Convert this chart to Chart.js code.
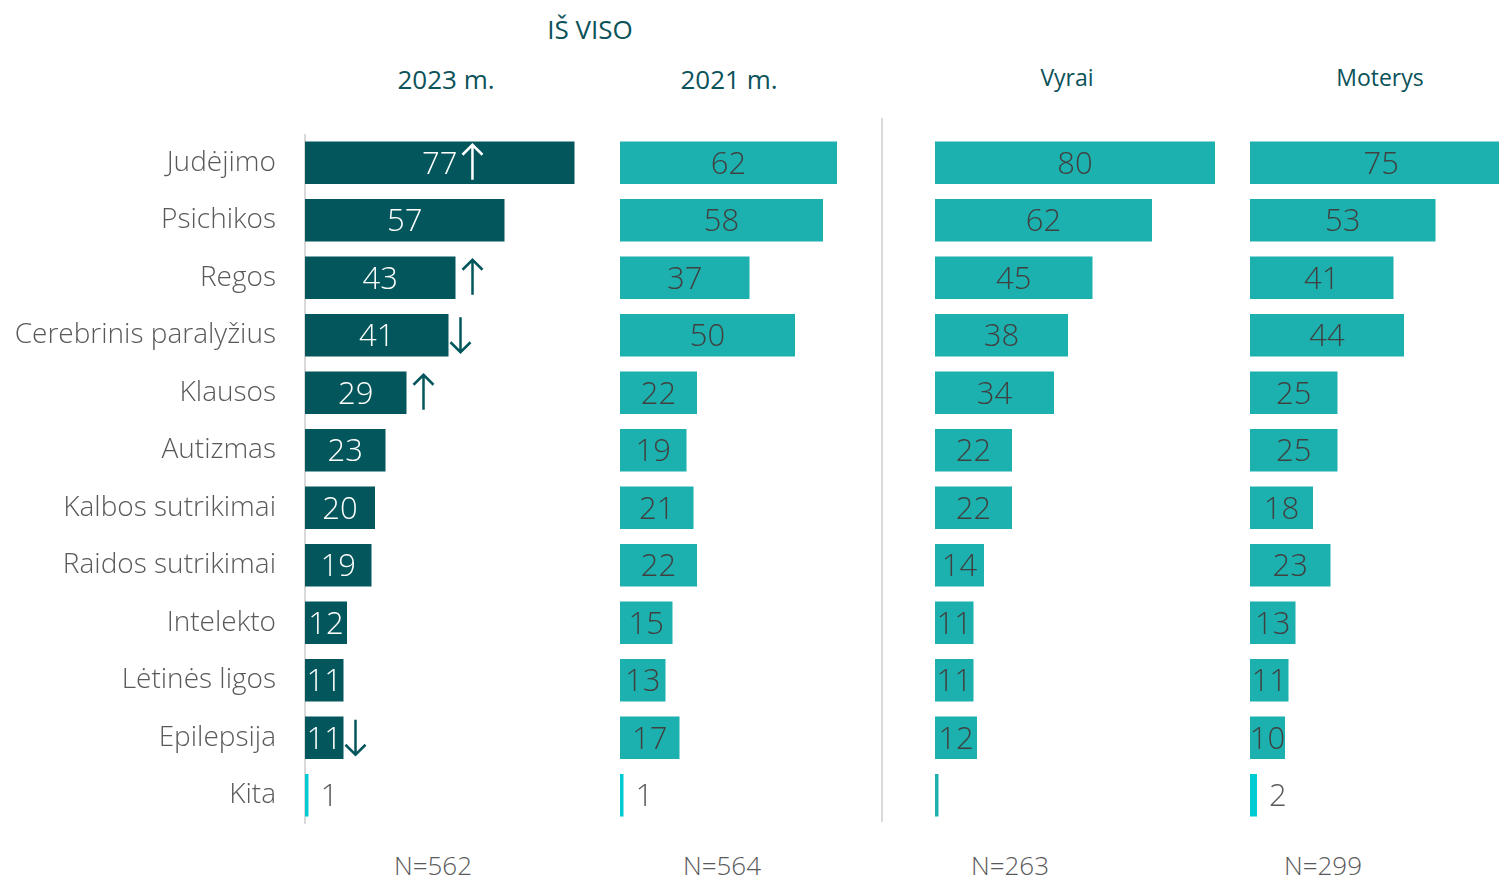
<!DOCTYPE html>
<html>
<head>
<meta charset="utf-8">
<script src="https://cdn.jsdelivr.net/npm/chart.js@4.4.0/dist/chart.umd.min.js"></script>
<style>
  body { margin: 0; background: #fff; font-family: 'Open Sans', sans-serif; }
  #wrap { position: relative; width: 1499px; height: 880px; overflow: hidden; }
  .panel { position: absolute; top: 134px; height: 690px; }
  .txt { position: absolute; transform: translate(-50%, -50%); white-space: nowrap; }
  .head { color: #0b5259; font-size: 26px; }
  .head.small { font-size: 23px; }
  .n { color: #595959; font-size: 26px; font-weight: 300; }
  #sep { position: absolute; left: 881px; top: 118px; width: 2px; height: 704px; background: #d9d9d9; }
</style>
</head>
<body>
<div id="wrap">
  <div class="txt head" style="left:590px;top:29px">IŠ VISO</div>
  <div id="titles"></div>
  <div id="sep"></div>
  <div class="panel" style="left:0;width:590px"><canvas id="c0"></canvas></div>
  <div class="panel" style="left:620px;width:260px"><canvas id="c1"></canvas></div>
  <div class="panel" style="left:935px;width:300px"><canvas id="c2"></canvas></div>
  <div class="panel" style="left:1250px;width:249px"><canvas id="c3"></canvas></div>
</div>
<script>
// data
const categories = ['Judėjimo', 'Psichikos', 'Regos', 'Cerebrinis paralyžius', 'Klausos', 'Autizmas',
  'Kalbos sutrikimai', 'Raidos sutrikimai', 'Intelekto', 'Lėtinės ligos', 'Epilepsija', 'Kita'];
const total2023 = [77, 57, 43, 41, 29, 23, 20, 19, 12, 11, 11, 1];
const total2021 = [62, 58, 37, 50, 22, 19, 21, 22, 15, 13, 17, 1];
const men = [80, 62, 45, 38, 34, 22, 22, 14, 11, 11, 12, 1];
const women = [75, 53, 41, 44, 25, 25, 18, 23, 13, 11, 10, 2];
const trend2023 = ['up', null, 'up', 'down', 'up', null, null, null, null, null, 'down', null];
const panelTitles = ['2023 m.', '2021 m.', 'Vyrai', 'Moterys'];
const sampleSizes = ['N=562', 'N=564', 'N=263', 'N=299'];

const DARK = '#03565b';
const TEAL = '#1cb1ae';
const CYAN = '#00cbd3';
const PX_PER_UNIT = 3.5;

Chart.defaults.font.family = "'Open Sans', sans-serif";

// titles and N= under each panel
const titlePos = [[446, 79, ''], [729, 79, ''], [1067, 77, 'small'], [1380, 77, 'small']];
const nPos = [433, 722, 1010, 1323];
const titles = document.getElementById('titles');
panelTitles.forEach((t, i) => {
  const d = document.createElement('div');
  d.className = 'txt head ' + titlePos[i][2];
  d.style.left = titlePos[i][0] + 'px';
  d.style.top = titlePos[i][1] + 'px';
  d.textContent = t;
  titles.appendChild(d);
  const n = document.createElement('div');
  n.className = 'txt n';
  n.style.left = nPos[i] + 'px';
  n.style.top = '865px';
  n.textContent = sampleSizes[i];
  titles.appendChild(n);
});

function drawArrow(ctx, x, y, dir, color) {
  const top = y - 18, bottom = y + 17;
  ctx.save();
  ctx.strokeStyle = color;
  ctx.lineWidth = 2.5;
  ctx.beginPath();
  ctx.moveTo(x, top);
  ctx.lineTo(x, bottom);
  if (dir === 'up') {
    ctx.moveTo(x - 10, top + 10); ctx.lineTo(x, top); ctx.lineTo(x + 10, top + 10);
  } else {
    ctx.moveTo(x - 10, bottom - 10); ctx.lineTo(x, bottom); ctx.lineTo(x + 10, bottom - 10);
  }
  ctx.stroke();
  ctx.restore();
}

const valueLabels = {
  id: 'valueLabels',
  afterDatasetsDraw(chart, args, opts) {
    const ctx = chart.ctx;
    const ds = chart.data.datasets[0];
    const meta = chart.getDatasetMeta(0);
    ctx.save();
    ctx.font = "300 31px 'Open Sans'";
    ctx.textBaseline = 'middle';
    meta.data.forEach((bar, i) => {
      const w = bar.x - bar.base;
      const txt = String(ds.data[i]);
      const y = bar.y + 2;
      let labelRight;
      if (!(opts.hide || []).includes(chart.data.labels[i])) {
        if (w < 20) {
          ctx.textAlign = 'left';
          ctx.fillStyle = '#595959';
          ctx.fillText(txt, bar.x + 12, y);
          labelRight = bar.x + 12 + ctx.measureText(txt).width;
        } else {
          ctx.textAlign = 'center';
          ctx.fillStyle = opts.inside;
          const cx = (bar.x + bar.base) / 2;
          ctx.fillText(txt, cx, y);
          labelRight = cx + ctx.measureText(txt).width / 2;
        }
      }
      const tr = opts.trend && opts.trend[i];
      if (tr) {
        const ax = bar.x + (tr === 'up' ? 17 : 12);
        if (ax + 10 > chart.chartArea.right) {
          drawArrow(ctx, labelRight + 15, bar.y, tr, '#ffffff');
        } else {
          drawArrow(ctx, ax, bar.y, tr, DARK);
        }
      }
    });
    ctx.restore();
  }
};

const panels = [
  { id: 'c0', data: total2023, main: DARK, kita: CYAN, inside: '#ffffff', axis: 305, trend: trend2023 },
  { id: 'c1', data: total2021, main: TEAL, kita: CYAN, inside: '#404040', axis: 0 },
  { id: 'c2', data: men, main: TEAL, kita: TEAL, inside: '#404040', axis: 0, hide: ['Kita'] },
  { id: 'c3', data: women, main: TEAL, kita: CYAN, inside: '#404040', axis: 0 }
];

panels.forEach(p => {
  const el = document.getElementById(p.id);
  const width = el.parentElement.clientWidth;
  const showAxis = p.axis > 0;
  new Chart(el, {
    type: 'bar',
    data: {
      labels: categories,
      datasets: [{
        data: p.data,
        backgroundColor: categories.map(c => c === 'Kita' ? p.kita : p.main),
        borderWidth: 0,
        barPercentage: 0.74,
        categoryPercentage: 1
      }]
    },
    options: {
      indexAxis: 'y',
      responsive: true,
      maintainAspectRatio: false,
      animation: false,
      layout: { padding: 0 },
      plugins: {
        legend: { display: false },
        tooltip: { enabled: false },
        valueLabels: { inside: p.inside, trend: p.trend, hide: p.hide }
      },
      scales: {
        x: {
          display: false,
          min: 0,
          max: (width - p.axis) / PX_PER_UNIT
        },
        y: {
          display: showAxis,
          grid: { display: false, drawTicks: false },
          border: { display: true, color: '#d9d9d9', width: 2 },
          ticks: {
            color: '#595959',
            padding: 29,
            font: { size: 28, weight: 300 }
          },
          afterFit(scale) {
            scale.width = p.axis;
            scale.paddingTop = 0;
            scale.paddingBottom = 0;
          }
        }
      }
    },
    plugins: [valueLabels]
  });
});
</script>
</body>
</html>
